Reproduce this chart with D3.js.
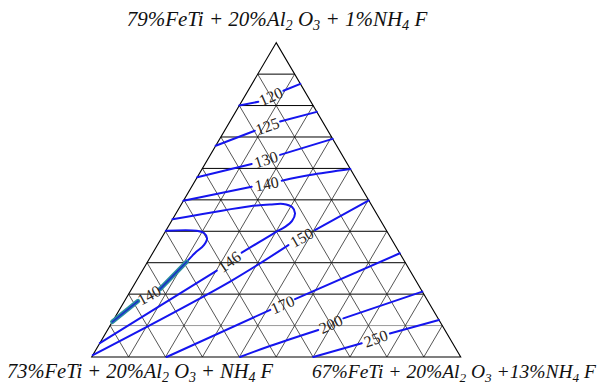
<!DOCTYPE html>
<html><head><meta charset="utf-8">
<script src="https://cdn.jsdelivr.net/npm/d3@7"></script>
<style>html,body{margin:0;padding:0;background:#fff;}svg{display:block;}</style>
</head><body>
<svg id="chart" width="611" height="387"></svg>
<script>
// Ternary coordinates: [a (top vertex %), c (right vertex %)]; b = 100 - a - c
const gridSteps = [10, 20, 30, 40, 50, 60, 70, 80, 90];
const vertexLabels = {
  top: [["79%FeTi + 20%Al"], ["2", 1], [" O"], ["3", 1], [" + 1%NH"], ["4", 1], [" F"]],
  left: [["73%FeTi + 20%Al"], ["2", 1], [" O"], ["3", 1], [" + NH"], ["4", 1], [" F"]],
  right: [["67%FeTi + 20%Al"], ["2", 1], [" O"], ["3", 1], [" +13%NH"], ["4", 1], [" F"]]
};
const contour120 = [[[80, 0], [81.2, 4.55]], [[84.7, 9.6], [86.9, 13.1]]];
const contour125 = [[[67.2, 0], [72.0, 8.2]], [[74.9, 13.6], [78.0, 22.0]]];
const contour130 = [[[57.2, 0], [61.4, 12.66]], [[64.3, 18.9], [69.4, 30.6]]];
const contour140a = [[[49.7, 0], [54.2, 16.26]], [[56.1, 23.45], [57.9, 30.2], [59.8, 40.2]]];
const contour146 = [[[43.8, 0], [48.0, 18.9], [48.5, 24.05], [48.7, 27.55], [47.7, 30.45], [45.7, 32.25],
  [43.3, 32.65], [41.4, 31.7], [39.9, 30.15], [36.7, 27.25], [33.2, 24.05]],
  [[27.5, 20.15], [4.4, 0]]];
const contour140b = [[[40.2, 0], [40.2, 8.36], [39.45, 10.7], [37.8, 12.35], [35.6, 12.6], [33.1, 11.45],
  [30.3, 10.6], [21.6, 7.7]], [[17.8, 3.65], [11.2, 0]]];
const contour150 = [[[0.6, 0], [24.0, 25.5], [35.6, 35.5]], [[40.4, 40.3], [49.8, 50.2]]];
const contour170 = [[[0, 20.3], [15.0, 40.9]], [[18.4, 45.9], [33.0, 67.0]]];
const contour200 = [[[0, 40.2], [3.5, 46.55], [8.6, 57.1]], [[12.3, 62.05], [20.8, 79.2]]];
const contour250 = [[[0, 60.05], [4.36, 71.0]], [[7.5, 77.05], [11.8, 88.2]]];
const contourValues = ["120", "125", "130", "140", "146", "140", "150", "170", "200", "250"];
const contourLines = [contour120, contour125, contour130, contour140a, contour146, contour140b,
  contour150, contour170, contour200, contour250];

const svg = d3.select("#chart");
const x = d3.scaleLinear().domain([0, 100]).range([91.7, 460.7]);
const y = d3.scaleLinear().domain([0, 100]).range([357, 42.7]);
const px = p => [x(p[1] + p[0] / 2), y(p[0])];

// Grid
const g = svg.append("g");
gridSteps.forEach(k => {
  const h = [px([k, 0]), px([k, 100 - k])];
  g.append("line").attr("x1", h[0][0]).attr("y1", h[0][1]).attr("x2", h[1][0]).attr("y2", h[1][1])
    .attr("stroke", k === 10 ? "#9a9a9a" : "#000").attr("stroke-width", 1);
  const c1 = [px([0, k]), px([100 - k, k])];
  g.append("line").attr("x1", c1[0][0]).attr("y1", c1[0][1]).attr("x2", c1[1][0]).attr("y2", c1[1][1])
    .attr("stroke", "#2a2a2a").attr("stroke-width", 0.8);
  const b1 = [px([0, 100 - k]), px([100 - k, 0])];
  g.append("line").attr("x1", b1[0][0]).attr("y1", b1[0][1]).attr("x2", b1[1][0]).attr("y2", b1[1][1])
    .attr("stroke", "#2a2a2a").attr("stroke-width", 0.8);
});
const tri = [px([100, 0]), px([0, 0]), px([0, 100])];
g.append("path").attr("d", "M" + tri.map(p => p.join(",")).join("L") + "Z")
  .attr("fill", "none").attr("stroke", "#000").attr("stroke-width", 1.1);

// Contours
const line = d3.line().curve(d3.curveCatmullRom.alpha(0.5));
const cg = svg.append("g");
contourLines.forEach((segs, i) => {
  segs.forEach(seg => {
    cg.append("path").attr("d", line(seg.map(px))).attr("fill", "none")
      .attr("stroke", "#1515ee").attr("stroke-width", 2).attr("stroke-linecap", "round");
  });
  if (i === 5) {
    [segs[0].slice(6), segs[1]].forEach(seg => {
      cg.append("path").attr("d", line(seg.map(px))).attr("fill", "none")
        .attr("stroke", "#2a8f9f").attr("stroke-width", 4.5).attr("stroke-linecap", "round");
      cg.append("path").attr("d", line(seg.map(px))).attr("fill", "none")
        .attr("stroke", "#1a30c8").attr("stroke-width", 1.6).attr("stroke-linecap", "round");
    });
  }
  const a = px(segs[0][segs[0].length - 1]);
  const b = px(segs[1][0]);
  const mx = (a[0] + b[0]) / 2, my = (a[1] + b[1]) / 2;
  let ang = Math.atan2(b[1] - a[1], b[0] - a[0]) * 180 / Math.PI;
  if (ang > 90) ang -= 180;
  if (ang < -90) ang += 180;
  cg.append("text").attr("transform", `translate(${mx},${my}) rotate(${ang})`)
    .attr("text-anchor", "middle").attr("dy", "0.35em")
    .attr("font-family", "Liberation Serif, Times New Roman, serif").attr("font-size", 16)
    .attr("fill", "#2a2420").text(contourValues[i]);
});

// Vertex labels
function rich(parts, xx, yy, anchor, size) {
  const t = svg.append("text").attr("x", xx).attr("y", yy).attr("text-anchor", anchor)
    .attr("font-family", "Liberation Serif, Times New Roman, serif").attr("font-style", "italic")
    .attr("font-size", size).attr("fill", "#111");
  let prevSub = false;
  parts.forEach(p => {
    const sub = !!p[1];
    const s = t.append("tspan").text(p[0]);
    if (sub) s.attr("font-size", size * 0.68);
    s.attr("dy", sub ? 4 : (prevSub ? -4 : 0));
    prevSub = sub;
  });
}
rich(vertexLabels.top, 277, 26, "middle", 21);
rich(vertexLabels.left, 7, 378, "start", 20.5);
rich(vertexLabels.right, 312, 378, "start", 19.5);
</script>
</body></html>
